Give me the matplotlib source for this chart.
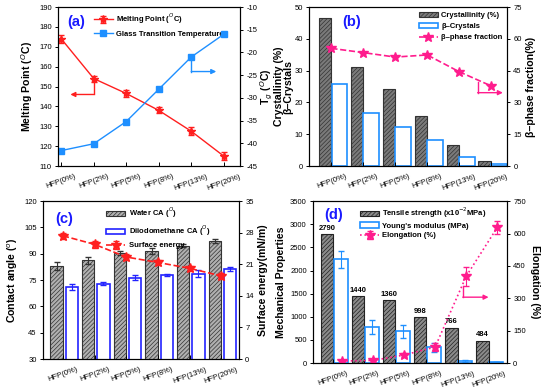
import numpy as np
import matplotlib
matplotlib.use("Agg")
import matplotlib.pyplot as plt

plt.rcParams['font.family'] = ['Liberation Sans', 'DejaVu Sans']
plt.rcParams['hatch.linewidth'] = 0.5
plt.rcParams['axes.unicode_minus'] = False

cats = ["HFP(0%)", "HFP(2%)", "HFP(5%)", "HFP(8%)", "HFP(13%)", "HFP(20%)"]

# (a)
melting = [174, 154, 146.5, 138, 127.5, 115]
melting_err = [2, 1.5, 2, 1.5, 2, 2]
tg = [-41.6, -40.1, -35.2, -28.1, -21.0, -16.0]

# (b)
crystallinity = [46.6, 31.2, 24.3, 15.7, 6.6, 1.7]
beta_crystals = [25.9, 16.6, 12.4, 8.1, 2.9, 0.6]
beta_fraction = [55.5, 53.5, 51.4, 52.4, 44.5, 37.8]

# (c)
water_ca = [83.0, 86.2, 90.5, 91.6, 94.5, 97.2]
water_err = [2.0, 2.0, 1.2, 1.8, 0.8, 1.2]
diiodo_ca = [71.0, 72.8, 76.4, 77.8, 78.6, 81.4]
diiodo_err = [1.5, 0.8, 1.2, 0.7, 2.0, 1.3]
surf_energy = [27.3, 25.4, 22.6, 21.4, 20.1, 18.4]
surf_err = [0.7, 0.8, 0.7, 0.6, 0.5, 0.7]

# (d)
tensile = [2790, 1440, 1360, 998, 766, 484]
young = [2240, 780, 690, 340, 45, 20]
young_err = [190, 150, 140, 100, 15, 5]
elong = [9, 12, 37, 74, 402, 628]
elong_err = [3, 3, 10, 18, 45, 28]

red = '#ff1f1f'
blue = '#1e8fff'
pink = '#ff1c8d'
dblue = '#2222ff'
LAB = 7.6
TICK = 5.5

x = np.arange(len(cats))
fig = plt.figure(figsize=(5.54, 3.91), dpi=100)

def style(ax, axr):
    ax.tick_params(axis='y', direction='out', labelsize=TICK, length=2.5, width=0.7, pad=2)
    ax.tick_params(axis='x', direction='in', labelsize=TICK, length=3, width=0.7, pad=5)
    axr.tick_params(axis='y', direction='out', labelsize=TICK, length=2.5, width=0.7, pad=2)
    ax.set_xticks(x)
    ax.set_xticklabels(cats, rotation=20, ha='center')
    for a in (ax, axr):
        for s in a.spines.values():
            s.set_linewidth(0.8)

def arrow(ax, xs, ys, col):
    ax.plot(xs[:-1], ys[:-1], color=col, lw=1)
    ax.annotate('', xy=(xs[-1], ys[-1]), xytext=(xs[-2], ys[-2]),
                arrowprops=dict(arrowstyle='-|>', color=col, lw=1, mutation_scale=7,
                                shrinkA=0, shrinkB=0))

def leg(ax, handles, labels, **kw):
    ax.legend(handles, labels, frameon=False, prop={'weight': 'bold', 'size': 5.5},
              handlelength=2.5, borderaxespad=0.2, handletextpad=0.4, **kw)

# ---- (a)
ax = fig.add_axes([0.1047, 0.5754, 0.3285, 0.4066])
axr = ax.twinx()
l1 = ax.errorbar(x, melting, yerr=melting_err, color=red, marker='*', ms=6, lw=1,
                 capsize=2, elinewidth=0.8)
l2, = axr.plot(x, tg, color=blue, marker='s', ms=4, lw=1)
ax.set_xlim(-0.1, 5.5)
ax.set_ylim(110, 190)
ax.set_yticks(range(110, 191, 10))
axr.set_ylim(-45, -10)
axr.set_yticks(range(-45, -9, 5))
ax.set_ylabel('Melting Point ($^{O}$C)', fontsize=LAB, fontweight='bold', labelpad=3)
axr.set_ylabel('T$_{g}$ ($^{O}$C)', fontsize=LAB, fontweight='bold', labelpad=1)
style(ax, axr)
leg(ax, [l1, l2], ['Melting Point ($^{O}$C)', 'Glass Transition Temperature'],
    loc='upper left', bbox_to_anchor=(0.17, 1.0), labelspacing=0.6)
ax.text(0.05, 0.95, '(a)', transform=ax.transAxes, color='#1a1aff', fontsize=10.5,
        fontweight='bold', va='top')
arrow(ax, [1, 1, 0.28], [154, 146, 146], red)
arrow(axr, [4, 4, 4.77], [-21, -24.2, -24.2], blue)

# ---- (b)
ax = fig.add_axes([0.5578, 0.5754, 0.3574, 0.4066])
axr = ax.twinx()
b1 = ax.bar(x - 0.2, crystallinity, width=0.39, facecolor='#7a7a7a', edgecolor='#333333',
            hatch='////////', lw=0.8)
b2 = ax.bar(x + 0.245, beta_crystals, width=0.48, facecolor='white', edgecolor=blue,
            lw=1.2)
l3, = axr.plot(x, beta_fraction, color=pink, ls='--', marker='*', ms=7, lw=1.2)
ax.set_xlim(-0.7, 5.5)
ax.set_ylim(0, 50)
ax.set_yticks(range(0, 51, 10))
axr.set_ylim(0, 75)
axr.set_yticks(range(0, 76, 15))
ax.set_ylabel('Crystallinity (%)\n\u03b2\u2013Crystals', fontsize=LAB, fontweight='bold',
              linespacing=0.95)
ax.yaxis.set_label_coords(-0.078, 0.5)
axr.set_ylabel('\u03b2\u2013phase fraction(%)', fontsize=LAB, fontweight='bold', labelpad=3)
style(ax, axr)
leg(ax, [b1, b2, l3], ['Crystallinity (%)', '\u03b2\u2013Crystals', '\u03b2\u2013phase fraction'],
    loc='upper right', labelspacing=0.5)
ax.text(0.17, 0.95, '(b)', transform=ax.transAxes, color='#1a1aff', fontsize=10.5,
        fontweight='bold', va='top')
arrow(axr, [4.58, 4.58, 5.37], [39.5, 34.6, 34.6], pink)

# ---- (c)
ax = fig.add_axes([0.0776, 0.0818, 0.3538, 0.404])
axr = ax.twinx()
b1 = ax.bar(x - 0.2, water_ca, width=0.39, facecolor='#b0b0b0', edgecolor='#333333',
            hatch='////////', lw=0.8, yerr=water_err, capsize=2,
            error_kw=dict(elinewidth=0.8, ecolor='#333333'))
b2 = ax.bar(x + 0.28, diiodo_ca, width=0.39, facecolor='white', edgecolor=dblue,
            lw=1.2, yerr=diiodo_err, capsize=2, error_kw=dict(elinewidth=0.8, ecolor=dblue))
l3 = axr.errorbar(x, surf_energy, yerr=surf_err, color=red, ls='--', marker='*', ms=7,
                  lw=1.2, capsize=2, elinewidth=0.8)
ax.set_xlim(-0.63, 5.56)
ax.set_ylim(30, 120)
ax.set_yticks(range(30, 121, 15))
axr.set_ylim(0, 35)
axr.set_yticks(range(0, 36, 7))
ax.set_ylabel('Contact angle ($^{o}$)', fontsize=LAB, fontweight='bold', labelpad=3)
axr.set_ylabel('Surface energy(mN/m)', fontsize=LAB, fontweight='bold', labelpad=3)
style(ax, axr)
leg(ax, [b1, b2, l3], ['Water CA ($^{O}$)', 'Diiodomethane CA ($^{O}$)', 'Surface energy'],
    loc='upper left', bbox_to_anchor=(0.3, 1.0), labelspacing=0.5)
ax.text(0.06, 0.93, '(c)', transform=ax.transAxes, color='#1a1aff', fontsize=10.5,
        fontweight='bold', va='top')

# ---- (d)
ax = fig.add_axes([0.565, 0.0716, 0.350, 0.414])
axr = ax.twinx()
b1 = ax.bar(x - 0.2, tensile, width=0.4, facecolor='#8a8a8a', edgecolor='#222222',
            hatch='////////', lw=0.8)
b2 = ax.bar(x + 0.25, young, width=0.45, facecolor='white', edgecolor=blue, lw=1.2,
            yerr=young_err, capsize=2, error_kw=dict(elinewidth=0.8, ecolor=blue))
l3 = axr.errorbar(x + 0.28, elong, yerr=elong_err, color=pink, ls=':', marker='*', ms=7,
                  lw=1.2, capsize=2, elinewidth=0.8)
for xi, v in zip(x, tensile):
    ax.text(xi - 0.2, v + 50, str(v), ha='center', va='bottom', fontsize=5.5, fontweight='bold')
ax.set_xlim(-0.65, 5.59)
ax.set_ylim(0, 3500)
ax.set_yticks(range(0, 3501, 500))
axr.set_ylim(0, 750)
axr.set_yticks(range(0, 751, 150))
ax.set_ylabel('Mechanical Properties', fontsize=LAB, fontweight='bold', labelpad=3)
axr.set_ylabel('Elongation (%)', fontsize=LAB, fontweight='bold', rotation=-90, labelpad=10)
style(ax, axr)
leg(ax, [b1, b2, l3], ['Tensile strength (x10$^{-2}$MPa)', "Young's modulus (MPa)",
                       'Elongation (%)'],
    loc='upper left', bbox_to_anchor=(0.22, 1.0), labelspacing=0.3)
ax.text(0.06, 0.96, '(d)', transform=ax.transAxes, color='#1a1aff', fontsize=10.5,
        fontweight='bold', va='top')
arrow(axr, [4.17, 4.17, 5.0], [355, 305, 305], pink)

fig.savefig('out.png', dpi=100)
